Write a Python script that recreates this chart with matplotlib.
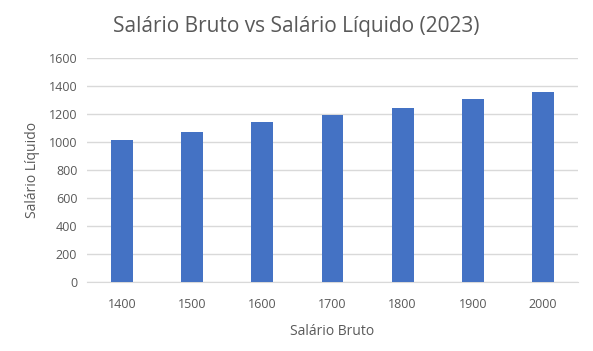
import matplotlib
matplotlib.use("Agg")
import matplotlib.pyplot as plt

# === Data ===
salario_bruto = ["1400", "1500", "1600", "1700", "1800", "1900", "2000"]
salario_liquido = [1015, 1073, 1145, 1195, 1245, 1310, 1360]

plt.rcParams["font.family"] = ["Open Sans", "DejaVu Sans"]
text_color = "#595959"

fig = plt.figure(figsize=(5.93, 3.51), dpi=100)
ax = fig.add_axes([0.1467, 0.1957, 0.828, 0.6383])

x = range(len(salario_bruto))
ax.bar(x, salario_liquido, width=0.31, color="#4472C4", zorder=3)

ax.set_xlim(-0.5, len(salario_bruto) - 0.5)
ax.set_ylim(0, 1600)
ax.set_yticks(range(0, 1601, 200))
ax.set_xticks(list(x))
ax.set_xticklabels(salario_bruto)
ax.grid(axis="y", color="#D9D9D9", linewidth=1, zorder=0)

for s in ["top", "right", "left"]:
    ax.spines[s].set_visible(False)
ax.spines["bottom"].set_color("#D9D9D9")
ax.tick_params(axis="both", length=0, labelsize=9, colors=text_color)
ax.tick_params(axis="x", pad=11)
ax.tick_params(axis="y", pad=7)

ax.set_xlabel("Salário Bruto", fontsize=10, color=text_color, labelpad=10)
ax.set_ylabel("Salário Líquido", fontsize=10, color=text_color, labelpad=6)
fig.suptitle("Salário Bruto vs Salário Líquido (2023)", fontsize=15,
             color=text_color, y=0.955)

fig.savefig("out.png", dpi=100)
